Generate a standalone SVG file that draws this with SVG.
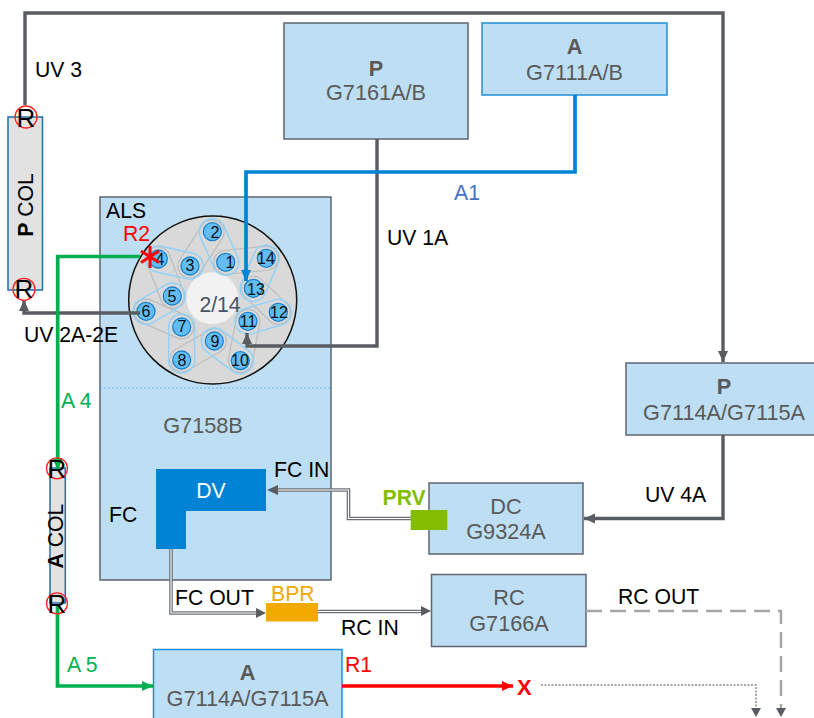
<svg xmlns="http://www.w3.org/2000/svg" width="814" height="718" viewBox="0 0 814 718">
<style>
text{font-family:"Liberation Sans",Arial,sans-serif;font-size:21.200px;fill:#000}
.m{text-anchor:middle}
.g{fill:#595959;font-size:21.700px}
.b{font-weight:bold}
.node{fill:#bddef3;stroke:#5f6670;stroke-width:1.5}
.nodeb{fill:#bddef3;stroke:#1f8fd6;stroke-width:1.5}
.col{fill:#e2e2e2;stroke:#1f6fa8;stroke-width:1.5}
.rc{fill:none;stroke:#f22;stroke-width:1.3}
.rt{font-size:26px;text-anchor:middle}
.num{font-size:16px;text-anchor:middle;fill:#111}
.pt{fill:#62bdf5;stroke:#1b82c8;stroke-width:1.3}
.lb{fill:none;stroke:#93d2f7;stroke-width:1.5}
.lg{fill:none;stroke:#bdbdbd;stroke-width:1.2}
.c{fill:none;stroke-linejoin:miter}
.dk{stroke:#595c61;stroke-width:3.4}
.thick{stroke-width:3.700}
.do{stroke:#6c7075;stroke-width:3.6}
.di{stroke:#fff;stroke-width:1.1}
</style>
<defs>
<marker id="ag" markerUnits="userSpaceOnUse" markerWidth="12" markerHeight="12" refX="11" refY="6" orient="auto"><path d="M0 1L11 6L0 11Z" fill="#595c61"/></marker>
<marker id="ab" markerUnits="userSpaceOnUse" markerWidth="12" markerHeight="12" refX="11" refY="6" orient="auto"><path d="M0 1L11 6L0 11Z" fill="#0083d4"/></marker>
<marker id="agr" markerUnits="userSpaceOnUse" markerWidth="12" markerHeight="12" refX="11" refY="6" orient="auto"><path d="M0 1L11 6L0 11Z" fill="#00b050"/></marker>
<marker id="ar" markerUnits="userSpaceOnUse" markerWidth="12" markerHeight="12" refX="11" refY="6" orient="auto"><path d="M0 1L11 6L0 11Z" fill="#f00"/></marker>
</defs>

<g id="als-box"><rect class="node" x="100" y="197" width="231" height="383"/><line x1="100" y1="388" x2="331" y2="388" stroke="#5ab8f2" stroke-width="1" stroke-dasharray="2 2"/>
<text x="106" y="218">ALS</text><text class="m g" x="203" y="433">G7158B</text><text x="109" y="522">FC</text></g>

<g id="p-g7161"><rect class="node" x="284" y="23" width="184" height="116"/><text class="m g b" x="376" y="76">P</text><text class="m g" x="376" y="100">G7161A/B</text></g>
<g id="a-g7111"><rect class="nodeb" x="482" y="23" width="185" height="72"/><text class="m g b" x="574.500" y="54">A</text><text class="m g" x="574.500" y="80">G7111A/B</text></g>
<g id="p-g7114"><rect class="node" x="626" y="363" width="190" height="72"/><text class="m g b" x="724" y="394">P</text><text class="m g" x="724" y="420">G7114A/G7115A</text></g>
<g id="dc"><rect class="node" x="429" y="483" width="154" height="71"/><text class="m g" x="506" y="514">DC</text><text class="m g" x="506" y="539">G9324A</text></g>
<g id="rc"><rect class="node" x="431.500" y="574.500" width="154.500" height="72"/><text class="m g" x="509" y="605">RC</text><text class="m g" x="509" y="631">G7166A</text></g>
<g id="a-g7114"><rect class="nodeb" x="153.500" y="649.500" width="188.500" height="72"/><text class="m g b" x="247.500" y="680">A</text><text class="m g" x="247.500" y="705.500">G7114A/G7115A</text></g>

<g id="p-col"><rect class="col" x="8" y="117" width="34.500" height="173"/><text transform="translate(33,205) rotate(-90)" class="m"><tspan class="b">P</tspan> COL</text></g>
<g id="a-col"><rect class="col" x="50" y="468" width="15.300" height="135"/><text transform="translate(63,536) rotate(-90)" class="m"><tspan class="b">A</tspan> COL</text></g>

<g id="valve">
<circle cx="212.700" cy="300" r="84" fill="#d9d9d9" stroke="#111" stroke-width="1.500"/>
<circle cx="212.300" cy="298.300" r="26" fill="#f2f2f2"/>
<g>
<rect class="lg" x="-32.400" y="-12" width="64.800" height="24" rx="12" transform="translate(246,260.300) rotate(-5.600)"/>
<rect class="lg" x="-29.400" y="-12" width="58.800" height="24" rx="12" transform="translate(265.800,300.300) rotate(43.800)"/>
<rect class="lg" x="-32" y="-12" width="64" height="24" rx="12" transform="translate(244.200,341) rotate(101)"/>
<rect class="lg" x="-30.900" y="-12" width="61.800" height="24" rx="12" transform="translate(198,350.500) rotate(-30)"/>
<rect class="lg" x="-31.500" y="-12" width="63" height="24" rx="12" transform="translate(163.800,319) rotate(23.700)"/>
<rect class="lg" x="-31.800" y="-12" width="63.600" height="24" rx="12" transform="translate(165.300,277.500) rotate(69.300)"/>
<rect class="lg" x="-32.300" y="-12" width="64.600" height="24" rx="12" transform="translate(201,249) rotate(-57)"/>
</g>
<g>
<rect class="lb" x="-29.700" y="-13" width="59.400" height="26" rx="13" transform="translate(219,247) rotate(66.400)"/>
<rect class="lb" x="-29.400" y="-13" width="58.800" height="26" rx="13" transform="translate(259.800,273.300) rotate(113.400)"/>
<rect class="lb" x="-29.300" y="-13" width="58.600" height="26" rx="13" transform="translate(174.200,262.500) rotate(12.500)"/>
<rect class="lb" x="-28.200" y="-13" width="56.400" height="26" rx="13" transform="translate(159.200,303.700) rotate(-30.200)"/>
<rect class="lb" x="-29.500" y="-13" width="59" height="26" rx="13" transform="translate(181.700,343.500) rotate(90)"/>
<rect class="lb" x="-29.300" y="-13" width="58.600" height="26" rx="13" transform="translate(227.300,350.900) rotate(37.200)"/>
<rect class="lb" x="-28.800" y="-13" width="57.600" height="26" rx="13" transform="translate(263.200,316.800) rotate(-16.500)"/>
</g>
<circle class="pt" cx="212.300" cy="231.700" r="9"/><circle class="pt" cx="225.700" cy="262.300" r="9"/><circle class="pt" cx="266.300" cy="258.300" r="9"/><circle class="pt" cx="190" cy="266" r="9"/><circle class="pt" cx="158.300" cy="259" r="9"/><circle class="pt" cx="253.300" cy="288.300" r="9"/><circle class="pt" cx="172.300" cy="296" r="9"/><circle class="pt" cx="146" cy="311.300" r="9"/><circle class="pt" cx="278.300" cy="312.300" r="9"/><circle class="pt" cx="248" cy="321.300" r="9"/><circle class="pt" cx="181.700" cy="327" r="9"/><circle class="pt" cx="214.300" cy="341" r="9"/><circle class="pt" cx="181.700" cy="360" r="9"/><circle class="pt" cx="240.300" cy="360.700" r="9"/>
<text class="num" x="215" y="238">2</text><text class="num" x="230" y="268">1</text><text class="num" x="266" y="264">14</text><text class="num" x="190" y="271">3</text><text class="num" x="160" y="265">4</text><text class="num" x="256" y="295">13</text><text class="num" x="172" y="302">5</text><text class="num" x="146" y="317">6</text><text class="num" x="279" y="318">12</text><text class="num" x="248" y="327">11</text><text class="num" x="182" y="332">7</text><text class="num" x="215" y="347">9</text><text class="num" x="182" y="366">8</text><text class="num" x="240" y="366">10</text>
<text class="m" x="220" y="312" style="fill:#44546a">2/14</text>
</g>

<g id="connectors">
<path class="c dk" d="M25 105V13H723V362" marker-end="url(#ag)"/>
<path class="c dk" d="M377 139V346H247V333" marker-end="url(#ag)"/>
<path class="c thick" stroke="#0083d4" d="M575 95V172H246V281" marker-end="url(#ab)"/>
<path class="c dk" d="M140 313H24V300" marker-end="url(#ag)"/>
<path class="c thick" stroke="#00b050" d="M140 256.500H57.700V470" marker-end="url(#agr)"/>
<path class="c thick" stroke="#00b050" d="M57.500 604V686H153" marker-end="url(#agr)"/>
<path class="c thick" stroke="#f00" d="M342 686H513" marker-end="url(#ar)"/>
<path class="c dk" d="M723 435V518.500H584" marker-end="url(#ag)"/>
<path class="c do" d="M411 518.500H348.500V490H272"/><path class="c di" d="M411 518.500H348.500V490H272"/><path d="M267 490L278 485V495Z" fill="#595c61"/>
<path class="c do" d="M171 549V613H258"/><path class="c di" d="M171 549V613H258"/><path d="M266 613L256 608V618Z" fill="#595c61"/>
<path class="c do" d="M318 611.500H424"/><path class="c di" d="M318 611.500H424"/><path d="M431 611L421 606V616Z" fill="#595c61"/>
<path class="c" stroke="#a6a6a6" stroke-width="2.500" stroke-dasharray="16 8" d="M586 611H781V708"/><path d="M781 717L776 708H786Z" fill="#595c61"/>
<path class="c" stroke="#a6a6a6" stroke-width="2" stroke-dasharray="2 1.500" d="M541 685H756V708"/><path d="M756 717L751 708H761Z" fill="#595c61"/>
</g>

<g id="r-marks">
<circle class="rc" cx="26" cy="117" r="11"/><text class="rt" x="26" y="127">R</text>
<circle class="rc" cx="24" cy="289.300" r="11"/><text class="rt" x="24" y="298">R</text>
<circle class="rc" cx="57" cy="468.300" r="10.500"/><text class="rt" x="57" y="478">R</text>
<circle class="rc" cx="57" cy="603.300" r="10.500"/><text class="rt" x="57" y="613">R</text>
</g>

<g id="dv"><path d="M156 469H266V511H186V549H156Z" fill="#0083d4"/><text class="m" x="211" y="498" style="fill:#fff">DV</text></g>
<g id="prv"><rect x="410.700" y="510" width="36.600" height="20" fill="#84bd00"/><text class="b" x="382.500" y="505" style="fill:#84bd00">PRV</text></g>
<g id="bpr"><rect x="266" y="603" width="52" height="18.500" fill="#f2a900"/><text x="271" y="600.500" style="fill:#f2a900">BPR</text></g>
<g id="r2-star" stroke="#f00" stroke-width="3"><line x1="150" y1="246" x2="150" y2="268"/><line x1="141" y1="251" x2="159" y2="262.500"/><line x1="159" y1="251" x2="141" y2="262.500"/></g>

<g id="labels">
<text x="35" y="77">UV 3</text>
<text x="454" y="200" style="fill:#4472c4">A1</text>
<text x="387" y="245">UV 1A</text>
<text x="123" y="240.500" style="fill:#f00">R2</text>
<text x="24" y="341.500">UV 2A-2E</text>
<text x="61" y="408" style="fill:#00b050">A 4</text>
<text x="274" y="477">FC IN</text>
<text x="645" y="502">UV 4A</text>
<text x="175" y="605">FC OUT</text>
<text x="341" y="635">RC IN</text>
<text x="618" y="604">RC OUT</text>
<text x="67" y="671.500" style="fill:#00b050">A 5</text>
<text x="345" y="671.500" style="fill:#f00">R1</text>
<text class="b" x="517" y="695" style="fill:#f00;font-size:22px">X</text>
</g>
</svg>
